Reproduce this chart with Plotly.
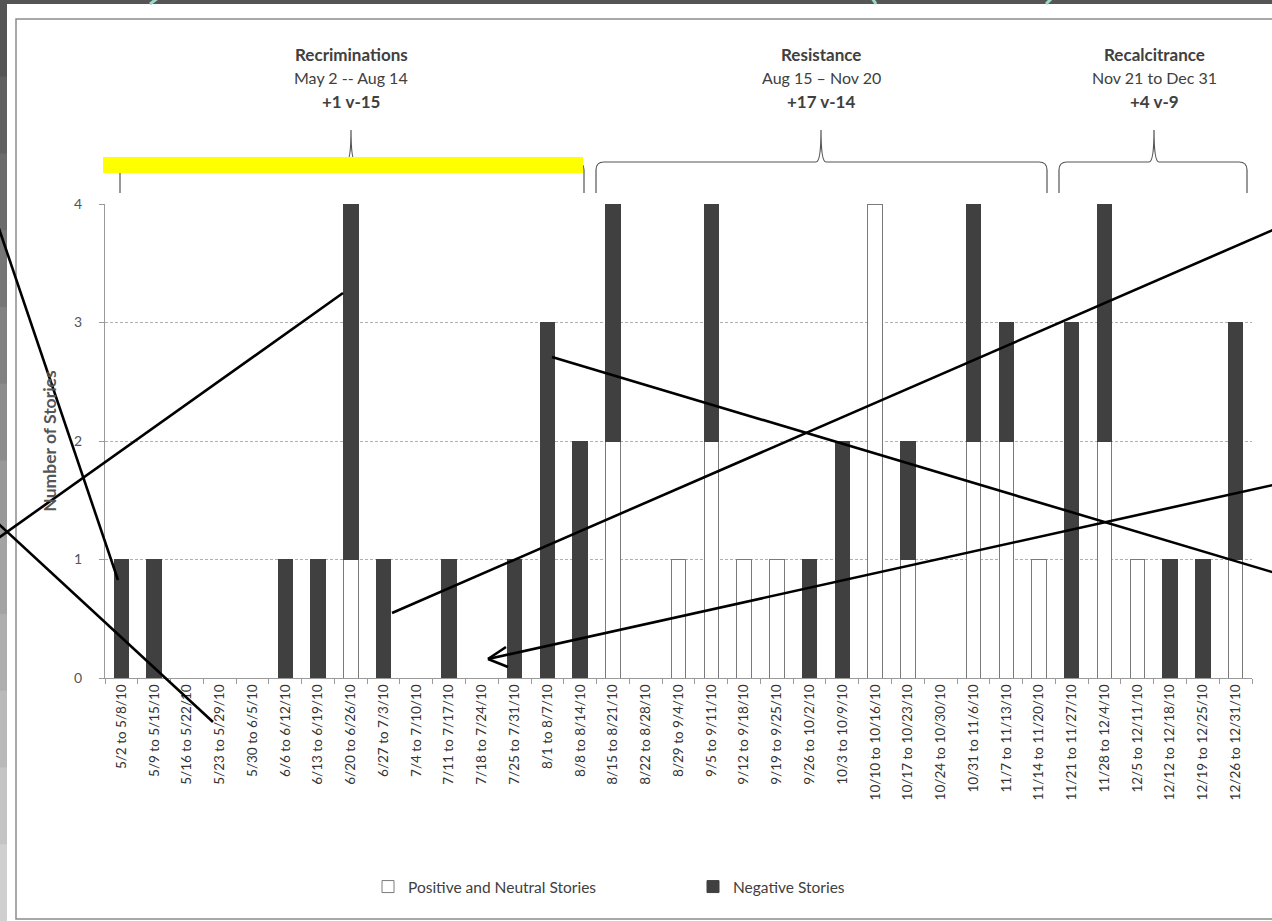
import plotly.graph_objects as go

weeks = ["5/2 to 5/8/10", "5/9 to 5/15/10", "5/16 to 5/22/10", "5/23 to 5/29/10", "5/30 to 6/5/10",
         "6/6 to 6/12/10", "6/13 to 6/19/10", "6/20 to 6/26/10", "6/27 to 7/3/10", "7/4 to 7/10/10",
         "7/11 to 7/17/10", "7/18 to 7/24/10", "7/25 to 7/31/10", "8/1 to 8/7/10", "8/8 to 8/14/10",
         "8/15 to 8/21/10", "8/22 to 8/28/10", "8/29 to 9/4/10", "9/5 to 9/11/10", "9/12 to 9/18/10",
         "9/19 to 9/25/10", "9/26 to 10/2/10", "10/3 to 10/9/10", "10/10 to 10/16/10", "10/17 to 10/23/10",
         "10/24 to 10/30/10", "10/31 to 11/6/10", "11/7 to 11/13/10", "11/14 to 11/20/10", "11/21 to 11/27/10",
         "11/28 to 12/4/10", "12/5 to 12/11/10", "12/12 to 12/18/10", "12/19 to 12/25/10", "12/26 to 12/31/10"]
positive = [0, 0, 0, 0, 0, 0, 0, 1, 0, 0, 0, 0, 0, 0, 0,
            2, 0, 1, 2, 1, 1, 0, 0, 4, 1, 0, 2, 2, 1,
            0, 2, 1, 0, 0, 1]
negative = [1, 1, 0, 0, 0, 1, 1, 3, 1, 0, 1, 0, 1, 3, 2,
            2, 0, 0, 2, 0, 0, 1, 2, 0, 1, 0, 2, 1, 0,
            3, 2, 0, 1, 1, 2]
periods = ["Recriminations", "Resistance", "Recalcitrance"]
period_dates = ["May 2 -- Aug 14", "Aug 15 \u2013 Nov 20", "Nov 21 to Dec 31"]
period_scores = ["+1 v-15", "+17 v-14", "+4 v-9"]

W, H = 1272, 921
L, R, T, B = 105, 20, 204, 243
PW, PH = W - L - R, H - T - B


def px(x):
    return (x - L) / PW


def py(y):
    return (H - B - y) / PH


FONT = "Lato, Open Sans, sans-serif"
TXT = "#404040"

fig = go.Figure()
fig.add_trace(go.Bar(
    x=weeks, y=[v if v else None for v in positive], name="Positive and Neutral Stories",
    marker=dict(color="#ffffff", line=dict(color="#7a7a7a", width=1)),
))
fig.add_trace(go.Bar(
    x=weeks, y=[v if v else None for v in negative], name="Negative Stories",
    marker=dict(color="#404040", line=dict(color="#404040", width=1)),
))

shapes = []
# background: left gradient strip, top dark band, white page, frame
steps = 12
for i in range(steps):
    g = int(0x55 + (0xd0 - 0x55) * i / (steps - 1))
    col = f"rgb({g},{g},{g})"
    y0 = i * H / steps
    y1 = (i + 1) * H / steps + 1
    shapes.append(dict(type="rect", xref="paper", yref="paper", x0=px(-2), x1=px(7),
                       y0=py(y0), y1=py(y1), fillcolor=col, line=dict(width=0), layer="below"))
shapes.append(dict(type="rect", xref="paper", yref="paper", x0=px(7), x1=px(W + 5),
                   y0=py(-2), y1=py(4), fillcolor="#555555", line=dict(width=0), layer="below"))
shapes.append(dict(type="rect", xref="paper", yref="paper", x0=px(7), x1=px(W + 10),
                   y0=py(4), y1=py(H + 10), fillcolor="#ffffff", line=dict(width=0), layer="below"))
shapes.append(dict(type="rect", xref="paper", yref="paper", x0=px(16), x1=px(W + 10),
                   y0=py(19), y1=py(919), fillcolor="rgba(0,0,0,0)",
                   line=dict(color="#8c8c8c", width=1.5), layer="below"))
# teal fragments of a cut-off slide title in the dark top band
for (xa, ya), (xb, yb) in [((150, 4), (158, -2)), ((876, 4), (872, -2)), ((1046, 4), (1052, -2))]:
    shapes.append(dict(type="line", xref="paper", yref="paper", x0=px(xa), y0=py(ya),
                       x1=px(xb), y1=py(yb), line=dict(color="#9ad9c9", width=3), layer="below"))


def brace(x0, xm, x1, ytop=130, ymid=162, ybot=193):
    pts = (f"M {px(x0)},{py(ybot)} L {px(x0)},{py(ymid + 8)} Q {px(x0)},{py(ymid)} {px(x0 + 8)},{py(ymid)} "
           f"L {px(xm - 5)},{py(ymid)} Q {px(xm)},{py(ymid)} {px(xm)},{py(ytop)} "
           f"Q {px(xm)},{py(ymid)} {px(xm + 5)},{py(ymid)} L {px(x1 - 8)},{py(ymid)} "
           f"Q {px(x1)},{py(ymid)} {px(x1)},{py(ymid + 8)} L {px(x1)},{py(ybot)}")
    return dict(type="path", xref="paper", yref="paper", path=pts,
                line=dict(color="#555555", width=1.2), layer="above")


brace_x = [(120, 351, 584), (596, 821, 1047), (1059, 1154, 1247)]
for b in brace_x:
    shapes.append(brace(*b))

# yellow highlight
shapes.append(dict(type="rect", xref="paper", yref="paper", x0=px(103), x1=px(583),
                   y0=py(173), y1=py(157), fillcolor="#ffff00", line=dict(width=0), layer="above"))

# black overlay lines
lines = [
    ((-8, 208), (118, 580)),
    ((-10, 544), (343, 293)),
    ((-10, 516), (213, 722)),
    ((1282, 226), (392, 613)),
    ((1282, 483), (488, 659)),
    ((552, 357), (1282, 575)),
    ((488, 659), (506, 647)),
    ((488, 659), (508, 667)),
]
for (xa, ya), (xb, yb) in lines:
    shapes.append(dict(type="line", xref="paper", yref="paper", x0=px(xa), y0=py(ya),
                       x1=px(xb), y1=py(yb), line=dict(color="#000000", width=2.6), layer="above"))

annotations = []
for (x0, xm, x1), name, dates, score in zip(brace_x, periods, period_dates, period_scores):
    for yy, txt, bold in [(55, name, True), (78, dates, False), (101, score, True)]:
        annotations.append(dict(xref="paper", yref="paper", x=px(xm), y=py(yy), xanchor="center",
                                yanchor="middle", showarrow=False,
                                text=f"<b>{txt}</b>" if bold else txt,
                                font=dict(family=FONT, size=17 if bold else 16, color=TXT)))

fig.update_layout(
    width=W, height=H,
    margin=dict(l=L, r=R, t=T, b=B),
    paper_bgcolor="#9a9a9a",
    plot_bgcolor="rgba(0,0,0,0)",
    barmode="stack",
    bargap=0.56,
    font=dict(family=FONT, size=13, color=TXT),
    shapes=shapes,
    annotations=annotations,
    showlegend=True,
    legend=dict(orientation="h", x=px(368), xanchor="left", y=py(887), yanchor="middle",
                font=dict(family=FONT, size=15.5, color=TXT), bgcolor="rgba(0,0,0,0)",
                traceorder="normal", entrywidth=280),
    xaxis=dict(
        type="category", tickangle=-90, tickson="boundaries", ticks="outside", ticklen=5,
        tickcolor="#9a9a9a", showline=True, linecolor="#9a9a9a", linewidth=1, showgrid=False,
        tickfont=dict(family=FONT, size=13.5, color="#333333"), range=[-0.5, len(weeks) - 0.5],
    ),
    yaxis=dict(
        range=[0, 4], dtick=1, ticks="outside", ticklen=5, tickcolor="#9a9a9a",
        showline=True, linecolor="#9a9a9a", linewidth=1, ticklabelstandoff=14,
        showgrid=True, gridcolor="#b0b0b0", griddash="3px,2px", gridwidth=1, zeroline=False,
        tickfont=dict(family=FONT, size=14, color="#555555"),
        title=dict(text="<b>Number of Stories</b>", standoff=12,
                   font=dict(family=FONT, size=17.5, color="#555555")),
    ),
)

fig.write_html("out.html", post_script="document.body.style.margin='0px';",
               config={"displayModeBar": False})
